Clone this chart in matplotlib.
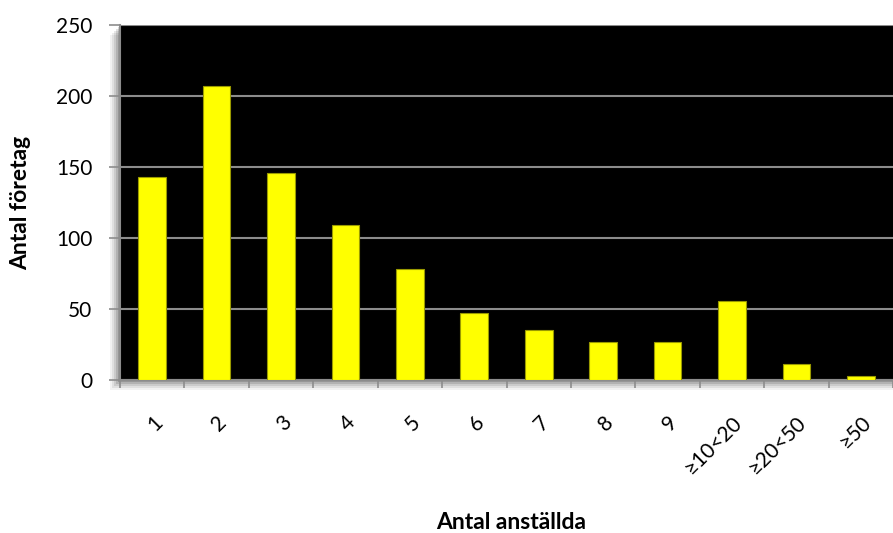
import matplotlib
matplotlib.use("Agg")
import matplotlib.pyplot as plt
from matplotlib.patches import Rectangle
from matplotlib.transforms import ScaledTranslation
import numpy as np

categories = ["1", "2", "3", "4", "5", "6", "7", "8", "9", "≥10<20", "≥20<50", "≥50"]
companies = [143, 207, 146, 109, 78, 47, 35, 27, 27, 56, 11, 3]
y_ticks = [0, 50, 100, 150, 200, 250]

plt.rcParams["font.family"] = ["Lato", "DejaVu Sans"]

fig = plt.figure(figsize=(8.93, 5.33), dpi=100)
fig.patch.set_facecolor("white")

ax_left, ax_bottom, ax_w, ax_h = 0.1344, 0.287, 0.8656, 0.666

# soft drop shadow behind the plot area
for i, a in enumerate([0.05, 0.07, 0.09, 0.12, 0.15]):
    off = (5 - i) * 2.0
    fig.patches.append(Rectangle(
        (ax_left - off / 893, ax_bottom - off / 533), ax_w + off / 893, ax_h,
        transform=fig.transFigure, facecolor="black", alpha=a,
        edgecolor="none", zorder=0))

ax = fig.add_axes([ax_left, ax_bottom, ax_w, ax_h])
ax.set_facecolor("black")
ax.set_zorder(1)

x = np.arange(len(categories))
ax.bar(x, companies, width=0.43, color="#ffff00", edgecolor="#9a9a00",
       linewidth=0.8, zorder=3)

ax.set_xlim(-0.5, len(categories) - 0.5)
ax.set_ylim(0, 250)
ax.set_yticks(y_ticks)
ax.set_yticklabels([str(v) for v in y_ticks], fontsize=15)
ax.yaxis.grid(True, color="#8c8c8c", linewidth=1.5, zorder=1)

# category boundaries carry the tick marks, centres carry the labels
ax.set_xticks(np.arange(-0.5, len(categories), 1.0))
ax.set_xticklabels([])
ax.set_xticks(x, minor=True)
ax.set_xticklabels(categories, minor=True, rotation=45, ha="right",
                   va="top", rotation_mode="anchor", fontsize=15)
shift = ScaledTranslation(8 / 100, 0, fig.dpi_scale_trans)
for lbl in ax.get_xticklabels(minor=True):
    lbl.set_transform(lbl.get_transform() + shift)
ax.tick_params(axis="x", which="minor", length=0, pad=23)
ax.tick_params(axis="x", which="major", length=6, width=1.2,
               color="#8c8c8c", direction="out")
ax.tick_params(axis="y", length=8, width=1.2, color="#8c8c8c",
               direction="out", pad=12)

for side in ["top", "right"]:
    ax.spines[side].set_visible(False)
for side in ["left", "bottom"]:
    ax.spines[side].set_color("#8c8c8c")
    ax.spines[side].set_linewidth(1.5)

fig.text(0.572, 0.008, "Antal anställda", ha="center", va="baseline",
         fontsize=16.5, fontweight="bold")
fig.text(0.023, 0.619, "Antal företag", ha="center", va="center",
         rotation=90, fontsize=16.5, fontweight="bold")

fig.savefig("out.png", dpi=100, facecolor="white")
